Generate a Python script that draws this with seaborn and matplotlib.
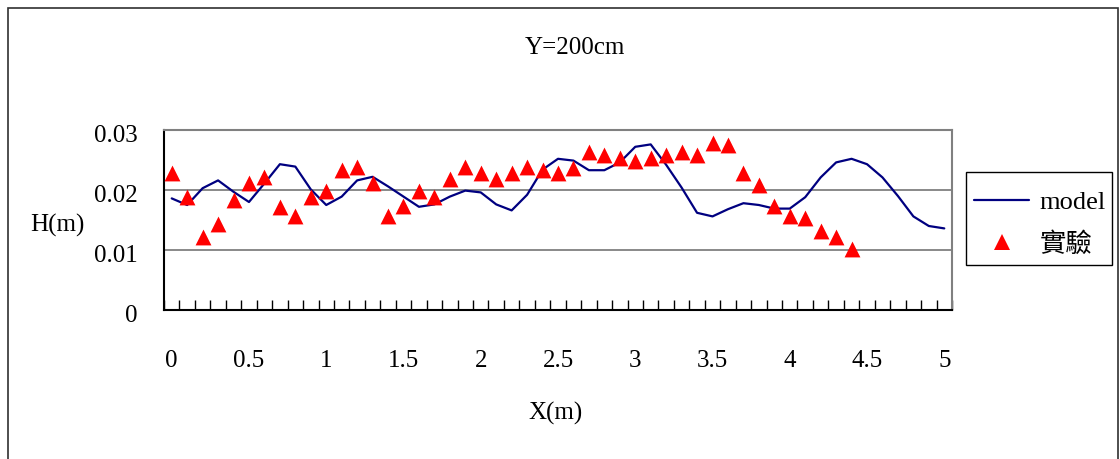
import numpy as np
import pandas as pd
import matplotlib
matplotlib.use('Agg')
import matplotlib.pyplot as plt
import matplotlib.transforms as mtransforms
from matplotlib.patches import Rectangle
from matplotlib.lines import Line2D
import seaborn as sns

# X 位置 (m)
x_model = [0.0, 0.1, 0.2, 0.3, 0.4, 0.5, 0.6, 0.7, 0.8, 0.9,
           1.0, 1.1, 1.2, 1.3, 1.4, 1.5, 1.6, 1.7, 1.8, 1.9,
           2.0, 2.1, 2.2, 2.3, 2.4, 2.5, 2.6, 2.7, 2.8, 2.9,
           3.0, 3.1, 3.2, 3.3, 3.4, 3.5, 3.6, 3.7, 3.8, 3.9,
           4.0, 4.1, 4.2, 4.3, 4.4, 4.5, 4.6, 4.7, 4.8, 4.9, 5.0]
# 模式計算結果 H (m)
h_model = [0.0186, 0.0175, 0.0203, 0.0216, 0.0197, 0.0180, 0.0211, 0.0243, 0.0239, 0.0201,
           0.0175, 0.0189, 0.0216, 0.0222, 0.0206, 0.0189, 0.0172, 0.0176, 0.0189, 0.0199,
           0.0196, 0.0176, 0.0166, 0.0192, 0.0234, 0.0252, 0.0249, 0.0233, 0.0233, 0.0246,
           0.0272, 0.0276, 0.0242, 0.0204, 0.0162, 0.0156, 0.0168, 0.0178, 0.0175, 0.0169,
           0.0169, 0.0188, 0.0221, 0.0246, 0.0252, 0.0243, 0.0221, 0.0190, 0.0156, 0.0140, 0.0136]

# 實驗量測 H (m)
x_exp = x_model[:45]
h_exp = [0.0228, 0.0188, 0.0121, 0.0144, 0.0184, 0.0211, 0.0221, 0.0171, 0.0157, 0.0188,
         0.0198, 0.0234, 0.0238, 0.0211, 0.0157, 0.0174, 0.0198, 0.0188, 0.0218, 0.0238,
         0.0229, 0.0218, 0.0228, 0.0238, 0.0234, 0.0228, 0.0237, 0.0264, 0.0258, 0.0254,
         0.0248, 0.0254, 0.0258, 0.0264, 0.0258, 0.0278, 0.0275, 0.0228, 0.0208, 0.0174,
         0.0157, 0.0154, 0.0132, 0.0121, 0.0101]

x_ticks = [0, 0.5, 1, 1.5, 2, 2.5, 3, 3.5, 4, 4.5, 5]
x_tick_labels = ['0', '0.5', '1', '1.5', '2', '2.5', '3', '3.5', '4', '4.5', '5']
y_ticks = [0, 0.01, 0.02, 0.03]
y_tick_labels = ['0', '0.01', '0.02', '0.03']

sns.set_theme(style='white')
plt.rcParams['font.family'] = ['Liberation Serif', 'Noto Sans CJK TC', 'DejaVu Sans']
plt.rcParams['text.color'] = 'black'
plt.rcParams['xtick.color'] = 'black'
plt.rcParams['ytick.color'] = 'black'
plt.rcParams['axes.labelcolor'] = 'black'

W, H = 1120, 459
fig = plt.figure(figsize=(W / 100, H / 100), dpi=100)
ax = fig.add_axes([164 / W, 1 - 310 / H, (952 - 164) / W, (310 - 130) / H])

df_model = pd.DataFrame({'X': x_model, 'H': h_model})
df_exp = pd.DataFrame({'X': x_exp, 'H': h_exp})

for yv in y_ticks[1:]:
    ax.axhline(yv, color='#808080', lw=1.3, zorder=1)

sns.lineplot(data=df_model, x='X', y='H', ax=ax, color='#000080', lw=1.6, zorder=3)
sns.scatterplot(data=df_exp, x='X', y='H', ax=ax, marker='^', s=130, color='#ff0000',
                linewidth=0, zorder=4)

ax.set_xlim(-0.05, 5.05)
ax.set_ylim(0, 0.03)
ax.set_xticks(x_ticks)
ax.set_xticklabels(x_tick_labels, fontsize=18)
ax.set_xticks([-0.05 + 0.1 * k for k in range(52)], minor=True)
ax.set_yticks(y_ticks)
ax.set_yticklabels(y_tick_labels, fontsize=18)
ax.tick_params(axis='x', which='major', length=0, pad=29)
ax.tick_params(axis='x', which='minor', direction='in', length=7, width=1, color='black', bottom=True)
ax.tick_params(axis='y', which='major', length=0, pad=19)
# y 刻度文字略往下移
shift = mtransforms.ScaledTranslation(0, -4 / 100, fig.dpi_scale_trans)
for lab in ax.get_yticklabels():
    lab.set_transform(lab.get_transform() + shift)
ax.set_xlabel('')
ax.set_ylabel('')

for side in ['left', 'bottom']:
    ax.spines[side].set_color('black')
    ax.spines[side].set_linewidth(1.5)
for side in ['top', 'right']:
    ax.spines[side].set_color('#808080')
    ax.spines[side].set_linewidth(1.5)

fig.text(575 / W, 1 - 48 / H, 'Y=200cm', ha='center', va='center', fontsize=18)
fig.text(556 / W, 1 - 413 / H, 'X(m)', ha='center', va='center', fontsize=18)
fig.text(57 / W, 1 - 225 / H, 'H(m)', ha='center', va='center', fontsize=18)

handles = [Line2D([], [], color='#000080', lw=1.6),
           Line2D([], [], color='#ff0000', marker='^', ls='', markersize=11, markeredgewidth=0)]
leg = fig.legend(handles, ['model', '實驗'], loc='center',
                 bbox_to_anchor=(1040 / W, 1 - 223.5 / H), fontsize=19,
                 frameon=False, handlelength=2.1, handletextpad=0.4,
                 borderpad=0, labelspacing=0.67, borderaxespad=0)
# 圖例外框
fig.patches.append(Rectangle((966 / W, 1 - 265 / H), (1112 - 966) / W, (265 - 172) / H,
                             transform=fig.transFigure, fill=False,
                             edgecolor='black', lw=1.0))

fig.patches.append(Rectangle((8 / W, -0.1), (1118 - 8) / W, 1.1 - 8 / H,
                             transform=fig.transFigure, fill=False,
                             edgecolor='#303030', lw=1.2))

fig.savefig('out.png', dpi=100)
